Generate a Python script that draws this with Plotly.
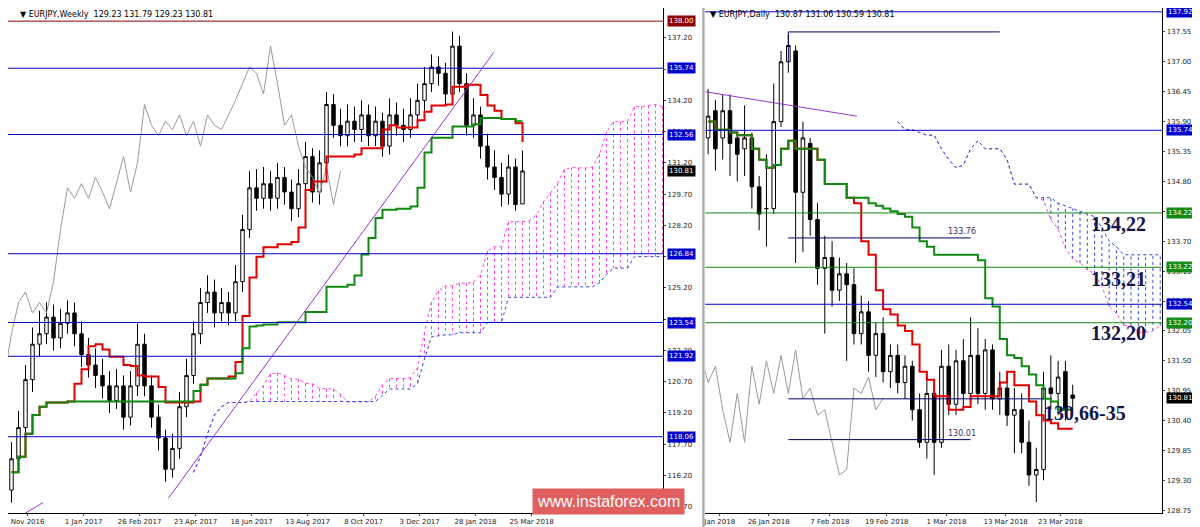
import plotly.graph_objects as go
import pandas as pd
import numpy as np

# ---------------- Weekly data ----------------
w_close = [117.0,118.5,120.8,122.5,123.0,123.8,122.8,123.5,124.0,123.0,
           122.0,121.5,121.0,120.5,119.8,120.5,119.0,120.5,122.5,120.5,
           119.0,118.0,116.5,117.5,119.5,121.0,123.0,124.5,125.0,124.0,
           124.5,124.0,125.5,128.0,130.0,129.5,130.2,129.5,130.5,129.8,
           129.0,130.2,131.5,129.8,131.2,134.0,133.0,132.5,133.2,132.8,
           133.5,132.5,133.2,132.0,133.5,133.0,132.8,133.5,134.2,135.0,
           135.8,135.5,134.5,136.8,135.0,133.0,133.5,132.0,131.0,130.5,
           129.7,131.0,129.2,130.81]
w_open = [115.5,117.0,118.5,120.8,122.5,123.0,123.8,122.8,123.5,124.0,
          123.0,122.0,121.5,121.0,120.5,119.8,120.5,119.0,120.5,122.5,
          120.5,119.0,118.0,116.5,117.5,119.5,121.0,123.0,124.5,125.0,
          124.0,124.5,124.0,125.5,128.0,130.0,129.5,130.2,129.5,130.5,
          129.8,129.0,130.2,131.5,129.8,131.2,134.0,133.0,132.5,133.2,
          132.8,133.5,132.5,133.2,132.0,133.5,133.0,132.8,133.5,134.2,
          135.0,135.8,135.5,134.5,136.8,135.0,133.0,133.5,132.0,131.0,
          130.5,129.7,131.0,129.23]
w_high = [117.8,119.3,121.5,123.3,124.1,124.5,124.4,124.2,124.6,124.5,
          123.6,122.8,122.3,121.8,121.2,121.3,121.0,121.2,123.5,123.0,
          121.0,119.6,118.4,118.2,120.2,121.8,123.6,125.2,125.8,125.6,
          125.2,125.0,126.3,128.7,130.8,130.9,131.0,130.8,131.2,131.0,
          130.4,130.9,132.2,131.9,131.8,134.6,134.5,133.8,134.0,133.9,
          134.2,134.0,133.9,133.6,134.3,134.1,133.8,134.3,135.0,135.8,
          136.4,136.3,136.0,137.5,137.3,135.5,134.3,133.9,132.6,131.8,
          131.2,131.6,131.4,131.79]
w_low = [114.9,116.6,118.0,120.2,121.9,122.5,122.2,122.3,123.0,122.4,
         121.4,120.9,120.4,119.9,119.2,119.4,118.4,118.6,120.0,120.0,
         118.5,117.4,115.9,116.1,117.0,119.0,120.6,122.5,124.0,123.3,
         123.6,123.4,123.6,125.0,127.6,128.9,129.0,128.9,129.0,129.2,
         128.4,128.6,129.8,129.3,129.2,131.0,132.4,132.0,132.0,132.2,
         132.2,132.0,132.0,131.5,131.6,132.5,132.2,132.4,133.0,133.7,
         134.6,134.9,134.0,134.0,134.6,132.5,132.4,131.4,130.4,129.9,
         129.1,129.2,128.9,129.23]
w_tickpos = [2.3,10.3,18.3,26.3,34.3,42.3,50.3,58.3,66.3,74.3]
w_ticktext = ["Nov 2016","1 Jan 2017","26 Feb 2017","23 Apr 2017","18 Jun 2017",
              "13 Aug 2017","8 Oct 2017","3 Dec 2017","28 Jan 2018","25 Mar 2018"]
w_levels = [138.00,135.74,132.56,126.84,123.54,121.92,118.06]
w_level_colors = ["#8b0000","#0000cc","#0000cc","#0000cc","#0000cc","#0000cc","#0000cc"]

# ---------------- Daily data ----------------
d_open = [135.6,136.1,135.6,136.1,135.6,135.4,135.6,134.7,134.3,134.3,135.9,137.0,137.2,134.6,
          135.5,134.1,133.2,133.4,132.8,133.1,132.9,132.0,132.4,131.6,132.0,131.3,131.6,131.1,
          131.4,130.6,130.0,130.9,130.0,131.4,130.7,131.5,130.9,131.6,130.9,131.7,130.8,131.0,
          130.5,130.6,130.0,129.4,129.5,131.0,130.9,131.3,130.87]
d_close = [136.0,135.4,136.1,135.5,135.3,135.6,134.7,134.2,134.3,135.9,137.0,137.3,134.6,135.6,
           134.1,133.2,133.4,132.8,133.1,132.9,132.0,132.4,131.6,132.0,131.3,131.6,131.1,131.4,
           130.6,130.0,130.9,130.0,131.4,130.7,131.5,130.9,131.6,130.9,131.7,130.8,131.0,130.5,
           130.6,130.0,129.4,129.5,131.0,130.9,131.2,130.6,130.81]
d_high = [136.5,136.3,136.4,136.4,135.7,136.2,135.7,134.9,135.3,136.6,137.2,137.5,137.3,135.9,
          135.6,134.4,133.8,133.7,133.4,133.3,133.2,132.7,132.6,132.2,132.3,131.8,131.8,131.6,
          131.5,130.9,131.2,131.1,131.7,131.8,131.7,131.9,132.3,132.1,131.9,131.8,131.3,131.2,
          131.0,130.9,130.4,129.9,131.3,131.6,131.5,131.5,131.06]
d_low = [135.3,135.0,135.2,134.9,134.8,134.9,134.3,133.9,133.6,134.2,135.8,136.8,133.3,133.5,
         133.8,132.9,132.0,132.5,132.6,131.5,131.8,131.8,131.3,131.2,131.1,131.0,130.9,130.8,
         130.4,129.9,129.7,129.4,129.9,130.5,130.5,130.6,130.7,130.7,130.6,130.6,130.5,130.3,
         129.8,129.8,129.2,128.9,129.3,130.6,130.5,130.4,130.59]
d_tickpos = [1.6,8.3,16.7,24.5,32.7,40.8,48.3]
d_ticktext = ["Jan 2018","26 Jan 2018","7 Feb 2018","19 Feb 2018","1 Mar 2018","13 Mar 2018","23 Mar 2018"]
d_levels = [137.92,135.74,134.22,133.22,132.54,132.20]
d_level_colors = ["#0000cc","#0000cc","#138a13","#138a13","#0000cc","#138a13"]
d_notes = ["134,22","133,21","132,20","130,66-35"]
d_note_y = [134.01,133.00,132.02,130.54]
d_note_x = [1140,1140,1140,1120]


def ichimoku(h, l, c):
    h = pd.Series(h); l = pd.Series(l); c = pd.Series(c)
    n = len(c)
    ten = (h.rolling(9, min_periods=1).max() + l.rolling(9, min_periods=1).min()) / 2
    kij = (h.rolling(26, min_periods=1).max() + l.rolling(26, min_periods=1).min()) / 2
    sa = ((ten + kij) / 2).values
    sb = ((h.rolling(52, min_periods=1).max() + l.rolling(52, min_periods=1).min()) / 2).values
    xs = np.arange(n) + 26
    return ten.values, kij.values, xs, sa, sb, np.arange(n) - 26, c.values


fig = go.Figure()


def add_panel(xa, ya, o, h, l, c):
    n = len(c)
    x = np.arange(n)
    ten, kij, xs, sa, sb, xc, chik = ichimoku(h, l, c)
    for color, cond in [("#ff44dd", sa >= sb), ("#3344dd", sa < sb)]:
        X, Y = [], []
        for i in range(n):
            if cond[i]:
                X += [xs[i], xs[i], None]; Y += [sa[i], sb[i], None]
        fig.add_trace(go.Scatter(x=X, y=Y, mode="lines", line=dict(color=color, width=1, dash="dot"),
                                 xaxis=xa, yaxis=ya, hoverinfo="skip"))
    fig.add_trace(go.Scatter(x=xs, y=sa, mode="lines", line=dict(color="#ff44dd", width=1, dash="dot"),
                             xaxis=xa, yaxis=ya))
    fig.add_trace(go.Scatter(x=xs, y=sb, mode="lines", line=dict(color="#3344dd", width=1, dash="dot"),
                             xaxis=xa, yaxis=ya))
    fig.add_trace(go.Scatter(x=xc, y=chik, mode="lines", line=dict(color="#999999", width=1),
                             xaxis=xa, yaxis=ya))
    fig.add_trace(go.Candlestick(x=x, open=o, high=h, low=l, close=c, xaxis=xa, yaxis=ya,
                                 increasing=dict(line=dict(color="black", width=1), fillcolor="white"),
                                 decreasing=dict(line=dict(color="black", width=1), fillcolor="black"),
                                 whiskerwidth=0))
    fig.add_trace(go.Scatter(x=x, y=ten, mode="lines", line=dict(color="#e00000", width=2, shape="hv"),
                             xaxis=xa, yaxis=ya))
    fig.add_trace(go.Scatter(x=x, y=kij, mode="lines", line=dict(color="#118811", width=2, shape="hv"),
                             xaxis=xa, yaxis=ya))


add_panel("x", "y", w_open, w_high, w_low, w_close)
add_panel("x2", "y2", d_open, d_high, d_low, d_close)

RD = 0.962
lblfont = dict(color="white", size=7, family="DejaVu Sans")
for v, col in zip(w_levels, w_level_colors):
    fig.add_shape(type="line", xref="x domain", x0=0, x1=1, yref="y", y0=v, y1=v, line=dict(color=col, width=1))
    fig.add_annotation(x=0.549, xref="paper", y=v, yref="y", text=f"{v:.2f}", showarrow=False,
                       xanchor="left", bgcolor=col, font=lblfont, borderpad=1)
fig.add_annotation(x=0.549, xref="paper", y=w_close[-1], yref="y", text=f"{w_close[-1]:.2f}",
                   showarrow=False, xanchor="left", bgcolor="black", font=lblfont, borderpad=1)
for v, col in zip(d_levels, d_level_colors):
    fig.add_shape(type="line", xref="x2 domain", x0=0, x1=1, yref="y2", y0=v, y1=v, line=dict(color=col, width=1))
    fig.add_annotation(x=RD + 0.003, xref="paper", y=v, yref="y2", text=f"{v:.2f}", showarrow=False,
                       xanchor="left", bgcolor=col, font=lblfont, borderpad=1)
fig.add_annotation(x=RD + 0.003, xref="paper", y=d_close[-1], yref="y2", text=f"{d_close[-1]:.2f}",
                   showarrow=False, xanchor="left", bgcolor="black", font=lblfont, borderpad=1)

# trend lines and marks
fig.add_shape(type="line", xref="x", yref="y", x0=22.4, y0=115.1, x1=68.9, y1=136.5, line=dict(color="#9933cc", width=1))
fig.add_shape(type="line", xref="x", yref="y", x0=-0.5, y0=113.9, x1=4.5, y1=114.9, line=dict(color="#9933cc", width=1))
fig.add_shape(type="line", xref="x2", yref="y2", x0=-0.4, y0=136.45, x1=20.4, y1=136.0, line=dict(color="#9933cc", width=1))
fig.add_shape(type="line", xref="x2", yref="y2", x0=11, y0=137.55, x1=40, y1=137.55, line=dict(color="#000066", width=1))
fig.add_shape(type="line", xref="x2", yref="y2", x0=11, y0=137.55, x1=11, y1=137.0, line=dict(color="#000066", width=1))
fig.add_shape(type="line", xref="x2", yref="y2", x0=11, y0=133.76, x1=36, y1=133.76, line=dict(color="#000066", width=1))
fig.add_shape(type="line", xref="x2", yref="y2", x0=11, y0=130.05, x1=36, y1=130.05, line=dict(color="#000066", width=1))
fig.add_shape(type="line", xref="x2", yref="y2", x0=11, y0=130.80, x1=46, y1=130.80, line=dict(color="#000066", width=1))
fig.add_annotation(x=37, y=133.76, xref="x2", yref="y2", text="133.76", showarrow=False, xanchor="right",
                   yanchor="bottom", font=dict(size=8, color="#333366"))
fig.add_annotation(x=37, y=130.05, xref="x2", yref="y2", text="130.01", showarrow=False, xanchor="right",
                   yanchor="bottom", font=dict(size=8, color="#333366"))

for t, y, xp in zip(d_notes, d_note_y, d_note_x):
    fig.add_annotation(x=xp / 1200, xref="paper", y=y, yref="y2", text=f"<b>{t}</b>", showarrow=False,
                       font=dict(family="Liberation Serif", size=20, color="#14144a"))

fig.add_annotation(x=10 / 1200, xref="paper", y=1, yref="paper", yanchor="top", xanchor="left", showarrow=False,
                   text="▼ EURJPY,Weekly  129.23 131.79 129.23 130.81", font=dict(size=8, color="black"))
fig.add_annotation(x=700 / 1200, xref="paper", y=1, yref="paper", yanchor="top", xanchor="left", showarrow=False,
                   text="▼ EURJPY,Daily  130.87 131.06 130.59 130.81", font=dict(size=8, color="black"))
fig.add_shape(type="rect", xref="paper", yref="paper", x0=0.5785, x1=0.5805, y0=-0.05, y1=1,
              fillcolor="#aaaaaa", line=dict(width=0))
fig.add_annotation(x=600 / 1200, xref="paper", y=12 / 527, yref="paper", showarrow=False,
                   text="www.instaforex.com", bgcolor="#e06060", font=dict(color="white", size=16, family="Arial"),
                   borderpad=4, yanchor="middle")

axfont = dict(size=7, color="#222222", family="DejaVu Sans")
common = dict(showgrid=False, zeroline=False, tickfont=axfont, showline=True, linecolor="black",
              ticks="outside", ticklen=2, tickangle=0, automargin=False)
fig.update_layout(
    width=1200, height=527, margin=dict(l=0, r=0, t=0, b=22),
    paper_bgcolor="white", plot_bgcolor="white", showlegend=False,
    font=dict(family="DejaVu Sans"),
    xaxis=dict(domain=[0, 0.546], range=[-0.5, 93.1], tickvals=w_tickpos, ticktext=w_ticktext,
               rangeslider=dict(visible=False), **common),
    yaxis=dict(anchor="x", side="right", range=[114.4, 138.63], tickvals=list(np.arange(113.2, 138, 1.5)),
               tickformat=".2f", **common),
    xaxis2=dict(domain=[0.581, RD], range=[-0.4, 62.3], tickvals=d_tickpos, ticktext=d_ticktext,
                rangeslider=dict(visible=False), **common),
    yaxis2=dict(anchor="x2", side="right", range=[128.7, 137.99], tickvals=list(np.arange(128.75, 137.6, 0.55)),
                tickformat=".2f", **common),
)
fig.write_html("out.html")
